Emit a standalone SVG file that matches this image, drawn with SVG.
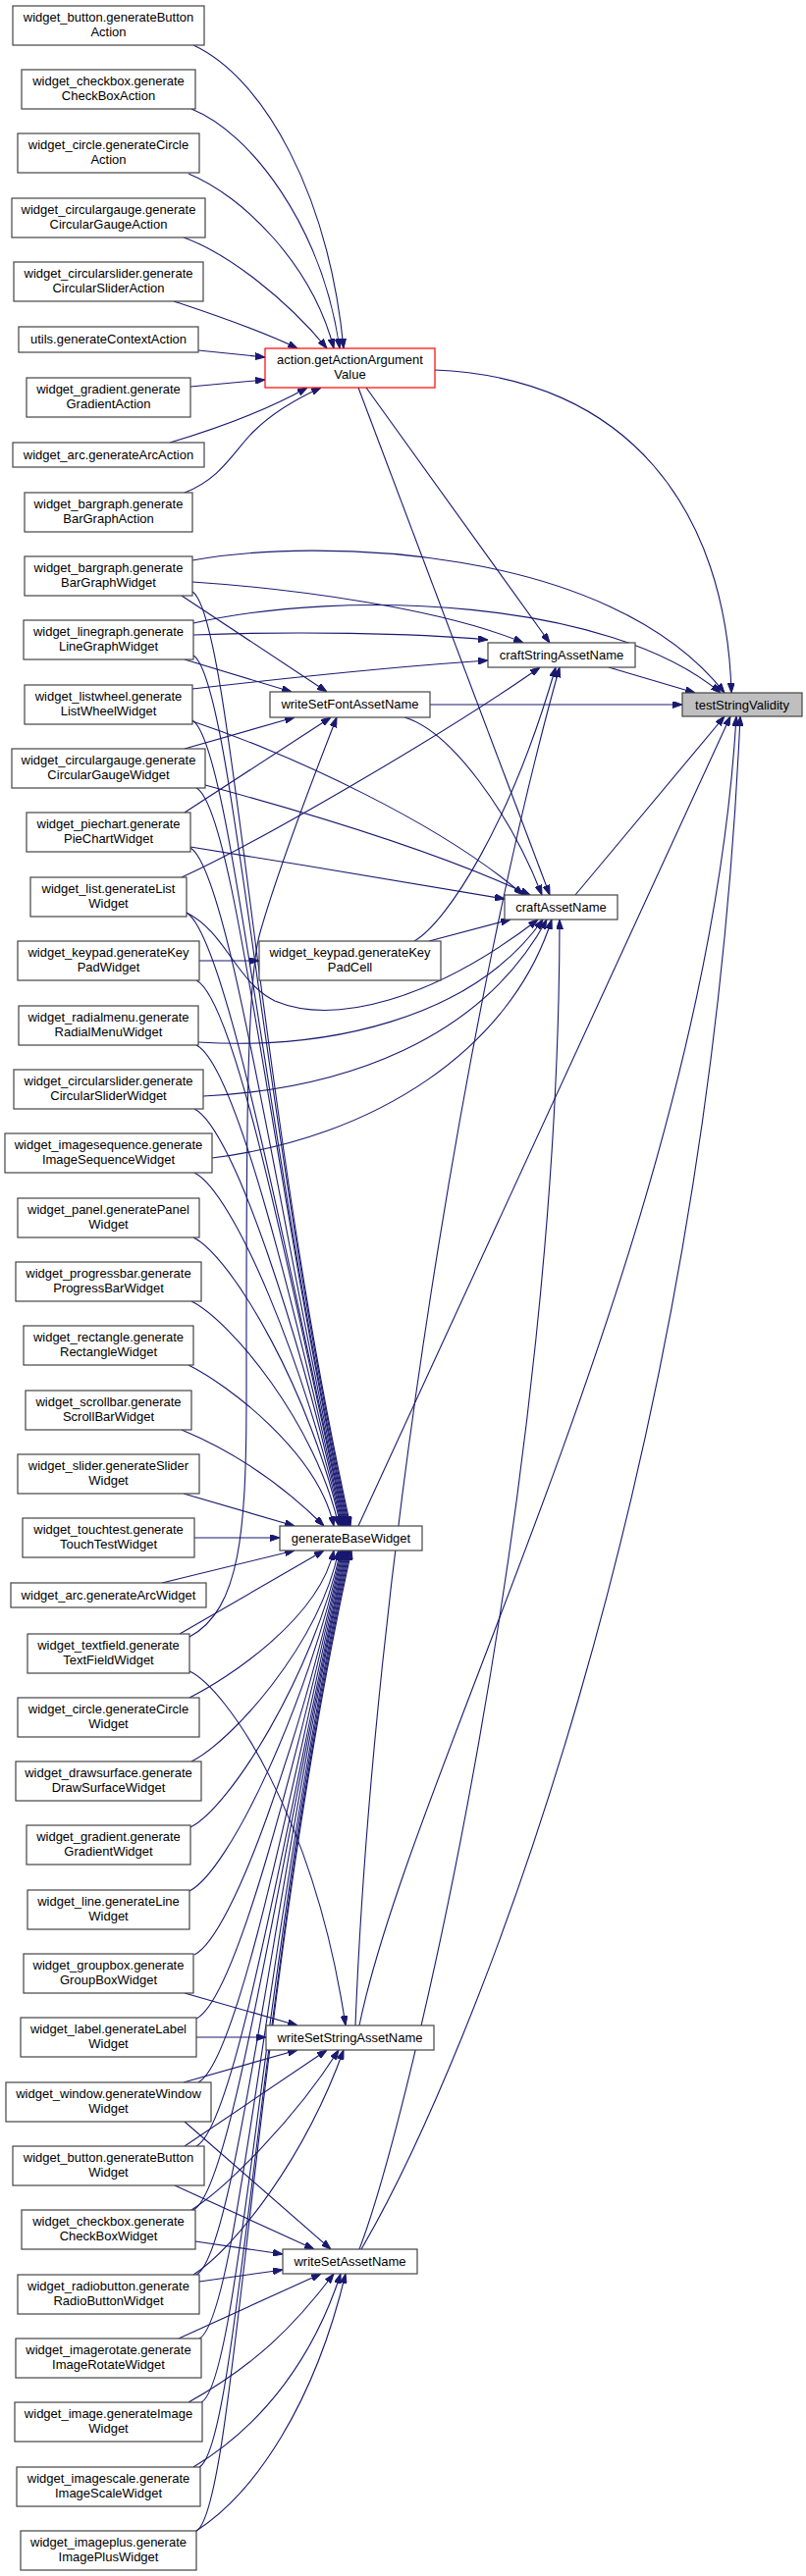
<svg xmlns="http://www.w3.org/2000/svg" width="821" height="2625" viewBox="0 0 821 2625">
<defs>
<style>
.n rect{fill:#ffffff;stroke:#444444;stroke-width:1.2}
.n text{font-family:"Liberation Sans",Arial,sans-serif;font-size:13px;fill:#000000;text-anchor:middle}
#n_action rect{stroke:#ff0000}
#n_TSV rect{fill:#bfbfbf}
.e path{fill:none;stroke:#191970;stroke-width:1.1;marker-end:url(#ah)}
</style>
<marker id="ah" viewBox="0 0 10 7" refX="10" refY="3.5" markerWidth="10" markerHeight="7" markerUnits="userSpaceOnUse" orient="auto"><path d="M0,0 L10,3.5 L0,7 z" fill="#191970" stroke="#191970"/></marker>
</defs>
<rect width="821" height="2625" fill="#ffffff"/>
<g class="e" id="edges">
<path d="M197,46 C270,80 335,200 350,355"/>
<path d="M195,111 C255,135 328,230 346,355"/>
<path d="M192,177 C248,200 318,270 340,355"/>
<path d="M187,242 C232,258 292,305 333,355"/>
<path d="M177,307 C210,318 262,335 303,355"/>
<path d="M202,357 L270,364"/>
<path d="M194,394 L270,387"/>
<path d="M173,451 C210,440 268,420 313,395"/>
<path d="M188,502 C225,488 238,460 258,440 C278,420 305,405 327,395"/>
<path d="M443,377 C640,385 740,520 745,706"/>
<path d="M373,395 L560,655"/>
<path d="M365,395 L560,912"/>
<path d="M620,680 L708,706"/>
<path d="M438,718 L695,718"/>
<path d="M412,731 C460,745 520,830 552,912"/>
<path d="M586,912 L738,730"/>
<path d="M437,959 L520,937"/>
<path d="M422,959 C455,940 520,840 566,680"/>
<path d="M365,1555 L744,730"/>
<path d="M366,2064 C420,1800 720,1250 750,730"/>
<path d="M362,2064 C380,1600 480,1000 570,680"/>
<path d="M368,2292 C480,2100 720,1500 754,730"/>
<path d="M366,2292 C420,2150 570,1500 570,937"/>
<path d="M196,571 C320,548 620,555 738,706"/>
<path d="M197,635 C350,600 620,610 734,706"/>
<path d="M196,593 C300,600 450,620 533,655"/>
<path d="M197,647 C300,643 420,645 497,652"/>
<path d="M196,702 C300,690 420,678 497,673"/>
<path d="M185,894 C260,860 450,750 550,680"/>
<path d="M185,607 L333,705"/>
<path d="M188,672 L297,705"/>
<path d="M188,763 L300,731"/>
<path d="M188,828 L337,731"/>
<path d="M193,1668 C245,1640 251,1560 251,1420 C251,1200 250,1000 265,950 C285,880 320,790 343,731"/>
<path d="M196,735 C300,770 450,840 533,912"/>
<path d="M209,800 C320,830 450,870 540,912"/>
<path d="M194,863 C300,880 420,900 514,916"/>
<path d="M190,930 C230,950 240,1000 280,1020 C340,1045 440,1020 548,937"/>
<path d="M202,1062 C330,1070 480,1040 553,937"/>
<path d="M207,1117 C350,1110 490,1060 557,937"/>
<path d="M216,1180 C380,1160 520,1070 562,937"/>
<path d="M203,979 L264,979"/>
<path d="M193,1703 C230,1720 320,1850 352,2064"/>
<path d="M188,2031 L303,2064"/>
<path d="M200,2076 L271,2076"/>
<path d="M187,2122 L303,2089"/>
<path d="M188,2187 L333,2089"/>
<path d="M195,2252 C230,2230 300,2160 345,2089"/>
<path d="M197,2318 C240,2290 310,2200 350,2089"/>
<path d="M188,2162 L337,2292"/>
<path d="M178,2227 L320,2292"/>
<path d="M199,2284 L288,2297"/>
<path d="M203,2325 L288,2313"/>
<path d="M182,2383 L327,2317"/>
<path d="M192,2448 C260,2410 300,2370 340,2317"/>
<path d="M197,2514 C270,2470 320,2400 347,2317"/>
<path d="M200,2579 C260,2540 320,2450 352,2317"/>
<path d="M196,603 C236,627 262,1127 357,1555"/>
<path d="M197,668 C237,692 268,1157 356,1555"/>
<path d="M196,734 C236,758 273,1186 355,1555"/>
<path d="M200,803 C240,823 279,1215 354,1555"/>
<path d="M194,864 C234,888 284,1245 353,1555"/>
<path d="M190,930 C230,954 290,1274 352,1555"/>
<path d="M200,999 C240,1019 296,1304 351,1555"/>
<path d="M200,1065 C240,1085 301,1333 350,1555"/>
<path d="M198,1130 C238,1150 307,1363 349,1555"/>
<path d="M198,1195 C238,1215 312,1392 348,1555"/>
<path d="M197,1261 C237,1281 318,1422 347,1555"/>
<path d="M195,1326 C235,1346 322,1451 345,1555"/>
<path d="M192,1391 C232,1411 324,1480 340,1555"/>
<path d="M185,1457 C240,1480 290,1515 330,1555"/>
<path d="M187,1522 L300,1555"/>
<path d="M198,1567 L285,1567"/>
<path d="M165,1613 L300,1580"/>
<path d="M183,1665 L330,1580"/>
<path d="M193,1730 C233,1710 325,1649 340,1580"/>
<path d="M195,1795 C235,1775 324,1678 345,1580"/>
<path d="M194,1862 C234,1842 319,1707 347,1580"/>
<path d="M193,1927 C233,1907 314,1737 348,1580"/>
<path d="M198,1992 C238,1972 308,1766 349,1580"/>
<path d="M200,2057 C240,2037 302,1796 350,1580"/>
<path d="M202,2122 C242,2101 297,1825 351,1580"/>
<path d="M200,2187 C240,2167 292,1854 352,1580"/>
<path d="M197,2252 C237,2232 286,1884 353,1580"/>
<path d="M200,2318 C240,2298 280,1913 354,1580"/>
<path d="M203,2383 C243,2363 275,1942 355,1580"/>
<path d="M205,2448 C245,2428 269,1972 356,1580"/>
<path d="M203,2514 C243,2494 264,2001 357,1580"/>
<path d="M200,2579 C240,2559 258,2031 358,1580"/>
</g>
<g class="n" id="n_btnAct"><rect x="13" y="6" width="195" height="40"/><text x="110.5" y="22">widget_button.generateButton</text><text x="110.5" y="37">Action</text></g>
<g class="n" id="n_cbAct"><rect x="22" y="71" width="177" height="40"/><text x="110.5" y="87">widget_checkbox.generate</text><text x="110.5" y="102">CheckBoxAction</text></g>
<g class="n" id="n_circAct"><rect x="18" y="136" width="185" height="40"/><text x="110.5" y="152">widget_circle.generateCircle</text><text x="110.5" y="167">Action</text></g>
<g class="n" id="n_cgAct"><rect x="12" y="202" width="197" height="40"/><text x="110.5" y="218">widget_circulargauge.generate</text><text x="110.5" y="233">CircularGaugeAction</text></g>
<g class="n" id="n_csAct"><rect x="14" y="267" width="193" height="40"/><text x="110.5" y="283">widget_circularslider.generate</text><text x="110.5" y="298">CircularSliderAction</text></g>
<g class="n" id="n_utils"><rect x="19" y="333" width="183" height="26"/><text x="110.5" y="350">utils.generateContextAction</text></g>
<g class="n" id="n_gradAct"><rect x="27" y="385" width="167" height="40"/><text x="110.5" y="401">widget_gradient.generate</text><text x="110.5" y="416">GradientAction</text></g>
<g class="n" id="n_arcAct"><rect x="13" y="451" width="195" height="25"/><text x="110.5" y="468">widget_arc.generateArcAction</text></g>
<g class="n" id="n_bgAct"><rect x="25" y="502" width="171" height="40"/><text x="110.5" y="518">widget_bargraph.generate</text><text x="110.5" y="533">BarGraphAction</text></g>
<g class="n" id="n_action"><rect x="270" y="355" width="173" height="40"/><text x="356.5" y="371">action.getActionArgument</text><text x="356.5" y="386">Value</text></g>
<g class="n" id="n_bgW"><rect x="25" y="567" width="171" height="40"/><text x="110.5" y="583">widget_bargraph.generate</text><text x="110.5" y="598">BarGraphWidget</text></g>
<g class="n" id="n_lgW"><rect x="24" y="632" width="173" height="40"/><text x="110.5" y="648">widget_linegraph.generate</text><text x="110.5" y="663">LineGraphWidget</text></g>
<g class="n" id="n_lwW"><rect x="25" y="698" width="171" height="40"/><text x="110.5" y="714">widget_listwheel.generate</text><text x="110.5" y="729">ListWheelWidget</text></g>
<g class="n" id="n_cgW"><rect x="12" y="763" width="197" height="40"/><text x="110.5" y="779">widget_circulargauge.generate</text><text x="110.5" y="794">CircularGaugeWidget</text></g>
<g class="n" id="n_pcW"><rect x="27" y="828" width="167" height="40"/><text x="110.5" y="844">widget_piechart.generate</text><text x="110.5" y="859">PieChartWidget</text></g>
<g class="n" id="n_listW"><rect x="31" y="894" width="159" height="40"/><text x="110.5" y="910">widget_list.generateList</text><text x="110.5" y="925">Widget</text></g>
<g class="n" id="n_kpW"><rect x="18" y="959" width="185" height="40"/><text x="110.5" y="975">widget_keypad.generateKey</text><text x="110.5" y="990">PadWidget</text></g>
<g class="n" id="n_rmW"><rect x="19" y="1025" width="183" height="40"/><text x="110.5" y="1041">widget_radialmenu.generate</text><text x="110.5" y="1056">RadialMenuWidget</text></g>
<g class="n" id="n_csW"><rect x="14" y="1090" width="193" height="40"/><text x="110.5" y="1106">widget_circularslider.generate</text><text x="110.5" y="1121">CircularSliderWidget</text></g>
<g class="n" id="n_isW"><rect x="5" y="1155" width="211" height="40"/><text x="110.5" y="1171">widget_imagesequence.generate</text><text x="110.5" y="1186">ImageSequenceWidget</text></g>
<g class="n" id="n_panelW"><rect x="18" y="1221" width="185" height="40"/><text x="110.5" y="1237">widget_panel.generatePanel</text><text x="110.5" y="1252">Widget</text></g>
<g class="n" id="n_pbW"><rect x="16" y="1286" width="189" height="40"/><text x="110.5" y="1302">widget_progressbar.generate</text><text x="110.5" y="1317">ProgressBarWidget</text></g>
<g class="n" id="n_rectW"><rect x="24" y="1351" width="173" height="40"/><text x="110.5" y="1367">widget_rectangle.generate</text><text x="110.5" y="1382">RectangleWidget</text></g>
<g class="n" id="n_sbW"><rect x="26" y="1417" width="169" height="40"/><text x="110.5" y="1433">widget_scrollbar.generate</text><text x="110.5" y="1448">ScrollBarWidget</text></g>
<g class="n" id="n_sliderW"><rect x="18" y="1482" width="185" height="40"/><text x="110.5" y="1498">widget_slider.generateSlider</text><text x="110.5" y="1513">Widget</text></g>
<g class="n" id="n_ttW"><rect x="23" y="1547" width="175" height="40"/><text x="110.5" y="1563">widget_touchtest.generate</text><text x="110.5" y="1578">TouchTestWidget</text></g>
<g class="n" id="n_arcW"><rect x="11" y="1613" width="199" height="25"/><text x="110.5" y="1630">widget_arc.generateArcWidget</text></g>
<g class="n" id="n_tfW"><rect x="28" y="1665" width="165" height="40"/><text x="110.5" y="1681">widget_textfield.generate</text><text x="110.5" y="1696">TextFieldWidget</text></g>
<g class="n" id="n_circW"><rect x="18" y="1730" width="185" height="40"/><text x="110.5" y="1746">widget_circle.generateCircle</text><text x="110.5" y="1761">Widget</text></g>
<g class="n" id="n_dsW"><rect x="16" y="1795" width="189" height="40"/><text x="110.5" y="1811">widget_drawsurface.generate</text><text x="110.5" y="1826">DrawSurfaceWidget</text></g>
<g class="n" id="n_gradW"><rect x="27" y="1860" width="167" height="40"/><text x="110.5" y="1876">widget_gradient.generate</text><text x="110.5" y="1891">GradientWidget</text></g>
<g class="n" id="n_lineW"><rect x="28" y="1926" width="165" height="40"/><text x="110.5" y="1942">widget_line.generateLine</text><text x="110.5" y="1957">Widget</text></g>
<g class="n" id="n_gbW"><rect x="24" y="1991" width="173" height="40"/><text x="110.5" y="2007">widget_groupbox.generate</text><text x="110.5" y="2022">GroupBoxWidget</text></g>
<g class="n" id="n_labelW"><rect x="21" y="2056" width="179" height="40"/><text x="110.5" y="2072">widget_label.generateLabel</text><text x="110.5" y="2087">Widget</text></g>
<g class="n" id="n_winW"><rect x="6" y="2122" width="209" height="40"/><text x="110.5" y="2138">widget_window.generateWindow</text><text x="110.5" y="2153">Widget</text></g>
<g class="n" id="n_btnW"><rect x="13" y="2187" width="195" height="40"/><text x="110.5" y="2203">widget_button.generateButton</text><text x="110.5" y="2218">Widget</text></g>
<g class="n" id="n_cbW"><rect x="22" y="2252" width="177" height="40"/><text x="110.5" y="2268">widget_checkbox.generate</text><text x="110.5" y="2283">CheckBoxWidget</text></g>
<g class="n" id="n_rbW"><rect x="18" y="2318" width="185" height="40"/><text x="110.5" y="2334">widget_radiobutton.generate</text><text x="110.5" y="2349">RadioButtonWidget</text></g>
<g class="n" id="n_irW"><rect x="16" y="2383" width="189" height="40"/><text x="110.5" y="2399">widget_imagerotate.generate</text><text x="110.5" y="2414">ImageRotateWidget</text></g>
<g class="n" id="n_imgW"><rect x="15" y="2448" width="191" height="40"/><text x="110.5" y="2464">widget_image.generateImage</text><text x="110.5" y="2479">Widget</text></g>
<g class="n" id="n_iscW"><rect x="17" y="2514" width="187" height="40"/><text x="110.5" y="2530">widget_imagescale.generate</text><text x="110.5" y="2545">ImageScaleWidget</text></g>
<g class="n" id="n_ipW"><rect x="21" y="2579" width="179" height="40"/><text x="110.5" y="2595">widget_imageplus.generate</text><text x="110.5" y="2610">ImagePlusWidget</text></g>
<g class="n" id="n_CSAN"><rect x="497" y="655" width="150" height="25"/><text x="572" y="672">craftStringAssetName</text></g>
<g class="n" id="n_WSFAN"><rect x="275" y="705" width="163" height="26"/><text x="356.5" y="722">writeSetFontAssetName</text></g>
<g class="n" id="n_CAN"><rect x="514" y="912" width="115" height="25"/><text x="571.5" y="929">craftAssetName</text></g>
<g class="n" id="n_KPC"><rect x="264" y="959" width="185" height="40"/><text x="356.5" y="975">widget_keypad.generateKey</text><text x="356.5" y="990">PadCell</text></g>
<g class="n" id="n_GBW"><rect x="285" y="1555" width="145" height="25"/><text x="357.5" y="1572">generateBaseWidget</text></g>
<g class="n" id="n_WSSAN"><rect x="271" y="2064" width="171" height="25"/><text x="356.5" y="2081">writeSetStringAssetName</text></g>
<g class="n" id="n_WSAN"><rect x="288" y="2292" width="137" height="25"/><text x="356.5" y="2309">writeSetAssetName</text></g>
<g class="n" id="n_TSV"><rect x="695" y="706" width="122" height="24"/><text x="756" y="723">testStringValidity</text></g>
</svg>
